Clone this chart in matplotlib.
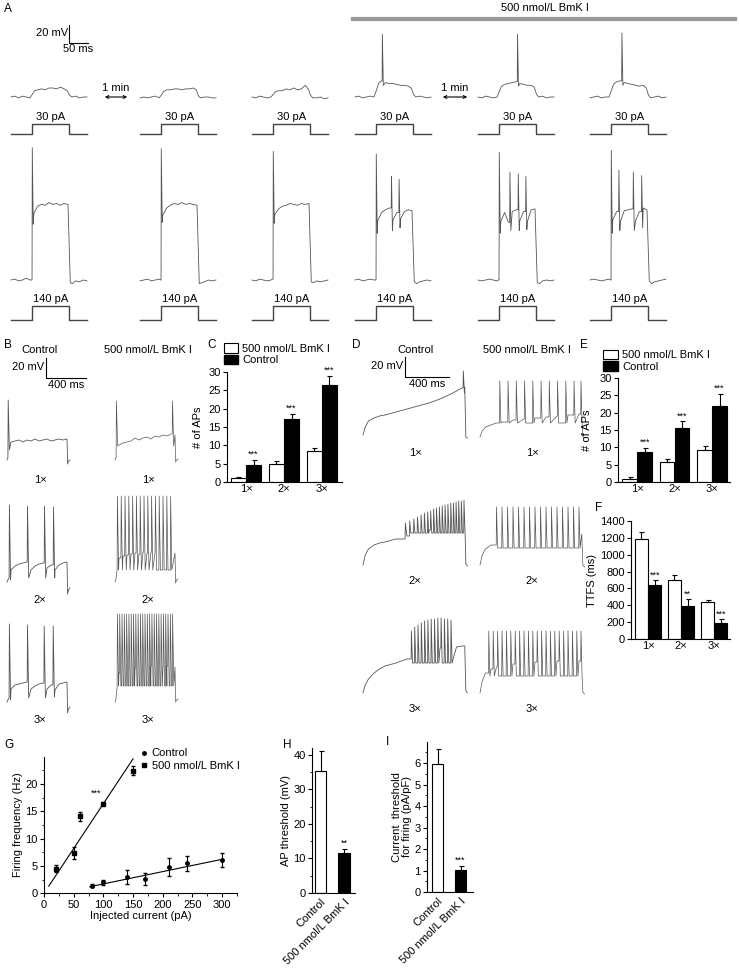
import numpy as np
import matplotlib.pyplot as plt
from matplotlib.patches import Patch, FancyArrowPatch
from matplotlib.lines import Line2D

plt.rcParams['font.family'] = ['Liberation Sans', 'DejaVu Sans']
plt.rcParams['font.size'] = 8
plt.rcParams['axes.linewidth'] = 0.8

W, H = 739, 971
TRACE = '#555555'

# ---------------- A: 30 pA and 140 pA sweeps (ms, mV) ----------------
a_t30 = [0, 10, 20, 30, 40, 50, 56, 62, 70, 80, 90, 100, 110, 120, 130, 140, 148, 154, 160, 170, 180, 190, 200]
a30_ctl = [
    [-65, -64, -66, -64, -65, -66, -62, -58, -57, -56, -57, -55, -55, -56, -54, -56, -58, -63, -65, -64, -66, -65, -65],
    [-66, -65, -66, -65, -64, -66, -63, -59, -57, -57, -56, -56, -57, -56, -56, -55, -57, -64, -66, -65, -65, -66, -66],
    [-65, -66, -64, -65, -66, -65, -62, -59, -58, -58, -56, -57, -55, -57, -56, -52, -56, -63, -66, -66, -65, -67, -66]]
a30_bmk = [
    [-65, -64, -66, -65, -64, -65, -58, -50, -47, -49, -50, -50, -51, -52, -52, -53, -55, -62, -65, -64, -65, -66, -65],
    [-65, -66, -64, -65, -66, -65, -59, -53, -51, -50, -49, -48, -50, -51, -52, -52, -54, -62, -65, -64, -66, -65, -65],
    [-66, -65, -64, -66, -65, -65, -58, -51, -48, -47, -49, -50, -51, -52, -53, -52, -55, -63, -66, -65, -64, -66, -65]]
a30_bmk_spk = [[(72, 5, -52)], [(104, 5, -53)], [(84, 6, -52)]]

a_t140 = [0, 10, 20, 30, 40, 50, 54, 60, 70, 80, 90, 100, 110, 120, 130, 140, 150, 156, 162, 170, 180, 190, 200]
a140_ctl = [
    [-70, -69, -71, -70, -68, -70, -70, 4, 12, 14, 13, 16, 14, 15, 13, 15, 14, -73, -74, -71, -72, -70, -71],
    [-71, -70, -69, -71, -70, -69, -70, 2, 10, 13, 15, 14, 16, 14, 15, 14, 13, -74, -73, -72, -70, -71, -70],
    [-70, -71, -69, -70, -71, -70, -69, 3, 9, 12, 13, 15, 14, 13, 15, 14, 15, -72, -73, -71, -72, -71, -70]]
a140_ctl_spk = [[(56, 77, -8)], [(56, 76, -6)], [(56, 73, -7)]]
a140_bmk = [
    [-70, -69, -71, -70, -69, -70, -70, -4, 5, 8, 10, -3, 5, -2, 6, 8, 7, -72, -74, -72, -71, -70, -71],
    [-70, -71, -70, -69, -70, -71, -70, -5, 5, -6, 6, 8, -4, 6, -5, 8, 9, -73, -74, -71, -70, -71, -70],
    [-70, -69, -70, -71, -70, -69, -70, -3, 6, -5, 7, 8, 9, -4, 6, 10, 8, -71, -74, -72, -71, -70, -69]]
a140_bmk_spk = [
    [(56, 70, -18), (96, 45, -15), (116, 42, -12)],
    [(56, 72, -18), (84, 50, -15), (106, 48, -15), (126, 45, -14)],
    [(56, 74, -18), (76, 52, -15), (114, 50, -15), (136, 46, -12)]]

step_t = [0, 55, 55, 152, 152, 200]
step_on = [0, 0, 1, 1, 0, 0]
step_amp = [30, 140]

# ---------------- B: 1x / 2x / 3x rheobase (ms, mV) ----------------
b_t = [0, 8, 20, 40, 80, 120, 160, 200, 240, 280, 320, 360, 400, 440, 480, 520, 560, 600, 606, 615, 630]
b_ctl = [
    [-72, -70, -58, -54, -53, -52, -54, -52, -53, -51, -53, -52, -51, -53, -52, -51, -52, -51, -76, -73, -72],
    [-74, -72, -70, -62, -58, -56, -55, -54, -62, -58, -56, -55, -60, -57, -62, -57, -55, -54, -86, -82, -80],
    [-74, -72, -70, -61, -57, -56, -55, -54, -61, -58, -56, -55, -61, -57, -62, -56, -55, -54, -85, -81, -79]]
b_ctl_spk = [
    [(12, -12, -62)],
    [(24, 3, -72), (205, 2, -70), (375, 2, -70), (465, 1, -70)],
    [(24, 4, -72), (205, 3, -70), (372, 2, -70), (462, 2, -69)]]
b_bmk = [
    [-72, -70, -60, -57, -55, -54, -53, -50, -52, -50, -49, -51, -48, -49, -47, -48, -46, -47, -74, -72, -71],
    [-74, -72, -62, -50, -48, -47, -46, -45, -46, -44, -45, -44, -45, -43, -44, -45, -44, -45, -75, -72, -71],
    [-74, -72, -60, -45, -42, -41, -40, -40, -39, -40, -39, -38, -39, -38, -39, -38, -38, -39, -74, -72, -71]]
b_bmk_spk_t = [
    [14, 575],
    [24, 62, 100, 138, 176, 214, 252, 290, 328, 366, 404, 442, 480, 518, 556],
    [24, 47, 70, 93, 116, 139, 162, 185, 208, 231, 254, 277, 300, 323, 346, 369, 392,
     415, 438, 461, 484, 507, 530, 553, 576]]
b_bmk_peak = [-13, 12, 14]
b_bmk_trough = [-58, -62, -58]

# ---------------- D: 1x / 2x / 3x ramps (ms, mV) ----------------
d_t = [0, 20, 50, 100, 150, 200, 300, 400, 500, 600, 700, 800, 850, 900, 925, 935, 950]
d_ctl = [
    [-70, -62, -56, -53, -51, -50, -47, -44, -41, -38, -34, -29, -26, -23, -22, -72, -73],
    [-72, -62, -56, -52, -50, -49, -46, -43, -40, -37, -35, -32, -31, -30, -30, -71, -73],
    [-72, -64, -58, -52, -48, -45, -42, -38, -34, -30, -27, -26, -26, -25, -25, -70, -72]]
d_ctl_spk_t = [
    [912],
    [385, 425, 462, 495, 528, 558, 588, 615, 642, 668, 694, 720, 746, 772, 798, 822, 846, 870, 894, 918],
    [440, 470, 500, 530, 560, 590, 620, 650, 680, 710, 740, 770, 800]]
d_ctl_peak = [
    [-6],
    [-30, -28, -26, -24, -22, -20, -19, -18, -16, -15, -14, -13, -12, -11, -10, -10, -9, -8, -8, -7],
    [-10, -6, -4, -2, 0, 1, 2, 2, 3, 3, 2, 2, 1]]
d_ctl_trough = [-28, -40, -42]
d_bmk = [
    [-72, -66, -62, -60, -58, -57, -55, -54, -53, -52, -51, -50, -50, -49, -49, -72, -73],
    [-72, -62, -56, -52, -50, -48, -46, -45, -44, -43, -42, -42, -41, -41, -41, -72, -74],
    [-72, -60, -52, -48, -46, -44, -43, -42, -41, -41, -40, -40, -40, -40, -40, -71, -73]]
d_bmk_spk_t = [
    [180, 255, 330, 405, 480, 555, 630, 705, 780, 855, 918],
    [150, 200, 250, 300, 350, 400, 450, 500, 550, 600, 650, 700, 750, 800, 850, 900],
    [80, 120, 160, 200, 240, 280, 320, 360, 400, 440, 480, 520, 560, 600, 640, 680,
     720, 760, 800, 840, 880, 918]]
d_bmk_peak = [-16, -14, -10]
d_bmk_trough = [-58, -55, -55]

# ---------------- C, E, F: bar charts ----------------
groups = ['1\u00d7', '2\u00d7', '3\u00d7']
c_white = [1.1, 5.0, 8.4]
c_white_err = [0.35, 0.6, 0.9]
c_black = [4.7, 17.2, 26.5]
c_black_err = [1.4, 1.3, 2.4]
c_stars = ['***', '***', '***']

e_white = [0.9, 5.7, 9.2]
e_white_err = [0.4, 0.8, 1.3]
e_black = [8.6, 15.5, 22.0]
e_black_err = [1.3, 2.0, 3.5]
e_stars = ['***', '***', '***']

f_white = [1186, 695, 440]
f_white_err = [84, 60, 25]
f_black = [640, 390, 190]
f_black_err = [55, 80, 45]
f_stars = ['***', '**', '***']

# ---------------- G: firing frequency vs current ----------------
g_ctl_x = [80, 100, 140, 170, 210, 240, 300]
g_ctl_y = [1.4, 2.0, 3.0, 2.7, 4.8, 5.5, 6.1]
g_ctl_err = [0.3, 0.5, 1.35, 1.1, 1.6, 1.4, 1.3]
g_ctl_fit_x = [77, 299]
g_ctl_fit_y = [1.2, 6.2]
g_bmk_x = [20, 50, 60, 100, 150]
g_bmk_y = [4.5, 7.4, 14.1, 16.4, 22.4]
g_bmk_err = [0.6, 1.15, 0.8, 0.3, 0.8]
g_bmk_fit_x = [8, 150]
g_bmk_fit_y = [1.3, 24.6]

# ---------------- H, I ----------------
conds = ['Control', '500 nmol/L BmK I']
h_vals = [35.4, 11.6]
h_err = [5.8, 1.1]
i_vals = [5.95, 1.02]
i_err = [0.7, 0.2]


# ================= helpers =================
fig = plt.figure(figsize=(W / 100, H / 100), dpi=100)


def px_axes(x0, y0, w, h):
    return fig.add_axes([x0 / W, 1 - (y0 + h) / H, w / W, h / H])


def fxy(x, y):
    return (x / W, 1 - y / H)


def build_trace(t, v, spikes, w):
    wins = [(ts - 0.25 * w, ts + w) for ts, _, _ in spikes]
    ev = [(ti, 0, vi) for ti, vi in zip(t, v) if not any(a <= ti <= b for a, b in wins)]
    ev += [(ts, 1, (pk, tr)) for ts, pk, tr in spikes]
    ev.sort(key=lambda e: e[0])
    xs, ys = [], []
    for te, kind, val in ev:
        if kind == 0:
            xs.append(te)
            ys.append(val)
        else:
            pk, tr = val
            xs += [te - 0.25 * w, te, te + w]
            ys += [ys[-1] if ys else tr, pk, tr]
    return xs, ys


def trace_axes(x0, y_base, v_base, t_end, vmin, vmax, pxms, pxmv):
    top = y_base - (vmax - v_base) * pxmv
    ax = px_axes(x0, top, t_end * pxms, (vmax - vmin) * pxmv)
    ax.set_xlim(0, t_end)
    ax.set_ylim(vmin, vmax)
    ax.axis('off')
    return ax


def draw_trace(x0, y_base, v_base, t, v, spikes, w, pxms, pxmv, vmin, vmax, lw=0.6):
    ax = trace_axes(x0, y_base, v_base, t[-1], vmin, vmax, pxms, pxmv)
    xs, ys = build_trace(t, v, spikes, w)
    ax.plot(xs, ys, color=TRACE, lw=lw, clip_on=False)
    return ax


def scale_bar(x0, y0, ms, mv, pxms, pxmv, lab_v, lab_h):
    ax = px_axes(x0, y0 - mv * pxmv, ms * pxms, mv * pxmv)
    ax.set_xlim(0, ms)
    ax.set_ylim(0, mv)
    ax.axis('off')
    ax.plot([0, 0, ms], [mv, 0, 0], color='black', lw=0.8, clip_on=False)
    ax.text(-ms * 0.04, mv * 0.55, lab_v, ha='right', va='center', fontsize=8)
    ax.text(ms * 0.5, -mv * 0.08, lab_h, ha='center', va='top', fontsize=8)


def style_axes(ax):
    ax.spines['top'].set_visible(False)
    ax.spines['right'].set_visible(False)
    ax.tick_params(direction='out', length=3, width=0.8, labelsize=8, pad=1.5)
    ax.tick_params(which='minor', direction='out', length=1.8, width=0.6)


def grouped_bars(ax, white, werr, black, berr, stars, ymax, ystep, star_pad):
    x = np.arange(1, 4)
    ekw = dict(lw=0.8, capthick=0.8)
    ax.bar(x - 0.2, white, 0.39, color='white', edgecolor='black', lw=0.8,
           yerr=[np.zeros(3), werr], capsize=1.8, error_kw=ekw)
    ax.bar(x + 0.2, black, 0.39, color='black', edgecolor='black', lw=0.8,
           yerr=[np.zeros(3), berr], capsize=1.8, error_kw=ekw)
    for xi, b, e, s in zip(x, black, berr, stars):
        ax.text(xi + 0.2, b + e + star_pad, s, ha='center', va='bottom', fontsize=6.5)
    ax.set_xticks(x)
    ax.set_xticklabels(groups)
    ax.set_yticks(np.arange(0, ymax + 1, ystep))
    ax.set_ylim(0, ymax)
    style_axes(ax)
    ax.tick_params(axis='x', length=0)


def legend_cd(ax, x_anchor):
    hs = [Patch(facecolor='white', edgecolor='black', lw=0.8, label='500 nmol/L BmK I'),
          Patch(facecolor='black', edgecolor='black', label='Control')]
    ax.legend(handles=hs, loc='lower left', bbox_to_anchor=(x_anchor, 1.06), frameon=False,
              fontsize=8, handlelength=1.3, handleheight=0.9, labelspacing=0.1,
              borderpad=0, handletextpad=0.4, borderaxespad=0)


def panel_label(x, y, s):
    fig.text(x / W, 1 - y / H, s, ha='left', va='center', fontsize=8.5)


# ================= A =================
A_PXMS, A_PXMV = 0.38, 0.9
cols_x = [11, 140, 252, 355, 478, 590]
row1_base, row2_base = 97, 280
for i in range(6):
    if i < 3:
        v30, s30, v140, s140 = a30_ctl[i], [], a140_ctl[i], a140_ctl_spk[i]
    else:
        v30, s30 = a30_bmk[i - 3], a30_bmk_spk[i - 3]
        v140, s140 = a140_bmk[i - 3], a140_bmk_spk[i - 3]
    draw_trace(cols_x[i], row1_base, -65, a_t30, v30, s30, 2.5, A_PXMS, A_PXMV, -74, 15)
    draw_trace(cols_x[i], row2_base, -70, a_t140, v140, s140, 2.5, A_PXMS, A_PXMV, -81, 88)
    for amp, y0, h, lo, hi in [(step_amp[0], 118, 20, -12, 48), (step_amp[1], 300, 24, -40, 200)]:
        sa = px_axes(cols_x[i], y0, step_t[-1] * A_PXMS, h)
        sa.set_xlim(0, step_t[-1])
        sa.set_ylim(lo, hi)
        sa.axis('off')
        sa.plot(step_t, [amp * s for s in step_on], color='#444444', lw=1.0, clip_on=False)
        sa.text((step_t[1] + step_t[3]) / 2, amp + (hi - lo) * 0.09, f'{amp} pA',
                ha='center', va='bottom', fontsize=8)

scale_bar(69, 43, 50, 20, A_PXMS, A_PXMV, '20 mV', '50 ms')
panel_label(4, 9, 'A')
fig.add_artist(Line2D([353 / W, 735 / W], [1 - 19 / H] * 2, color='#999999', lw=3))
fig.text(545 / W, 1 - 8 / H, '500 nmol/L BmK I', ha='center', va='center', fontsize=8)
for xa, xb in [(102, 130), (440, 470)]:
    fig.add_artist(FancyArrowPatch(fxy(xa, 97), fxy(xb, 97), transform=fig.transFigure,
                                   arrowstyle='<->', mutation_scale=5, lw=0.8, color='black'))
    fig.text((xa + xb) / 2 / W, 1 - 88 / H, '1 min', ha='center', va='center', fontsize=8)

# ================= B =================
B_PXMS, B_PXMV = 0.1, 1.0
panel_label(4, 345, 'B')
fig.text(40 / W, 1 - 350 / H, 'Control', ha='center', va='center', fontsize=8)
fig.text(148 / W, 1 - 350 / H, '500 nmol/L BmK I', ha='center', va='center', fontsize=8)
scale_bar(46, 378, 400, 20, B_PXMS, B_PXMV, '20 mV', '400 ms')
b_rows = [460, 580, 700]
for r in range(3):
    draw_trace(7, b_rows[r], -72, b_t, b_ctl[r], b_ctl_spk[r], 12, B_PXMS, B_PXMV, -90, 25)
    spk = [(t, b_bmk_peak[r], b_bmk_trough[r]) for t in b_bmk_spk_t[r]]
    draw_trace(115, b_rows[r], -72, b_t, b_bmk[r], spk, 12, B_PXMS, B_PXMV, -90, 25, lw=0.5)
    for xc in (40, 148):
        fig.text(xc / W, 1 - (b_rows[r] + 20) / H, groups[r], ha='center', va='center', fontsize=8)

# ================= D =================
D_PXMS, D_PXMV = 0.11, 1.0
panel_label(352, 345, 'D')
fig.text(415 / W, 1 - 350 / H, 'Control', ha='center', va='center', fontsize=8)
fig.text(527 / W, 1 - 350 / H, '500 nmol/L BmK I', ha='center', va='center', fontsize=8)
scale_bar(405, 377, 400, 20, D_PXMS, D_PXMV, '20 mV', '400 ms')
d_rows = [437, 565, 693]
for r in range(3):
    spk = [(t, p, d_ctl_trough[r]) for t, p in zip(d_ctl_spk_t[r], d_ctl_peak[r])]
    draw_trace(363, d_rows[r], -72, d_t, d_ctl[r], spk, 10, D_PXMS, D_PXMV, -85, 10)
    spk = [(t, d_bmk_peak[r], d_bmk_trough[r]) for t in d_bmk_spk_t[r]]
    draw_trace(480, d_rows[r], -72, d_t, d_bmk[r], spk, 10, D_PXMS, D_PXMV, -85, 10, lw=0.5)
    for xc in (415, 532):
        fig.text(xc / W, 1 - (d_rows[r] + 16) / H, groups[r], ha='center', va='center', fontsize=8)

# ================= C =================
axC = px_axes(227, 372, 115, 110)
grouped_bars(axC, c_white, c_white_err, c_black, c_black_err, c_stars, 30, 5, 0.3)
axC.set_xlim(0.5, 3.53)
axC.set_ylabel('# of APs', fontsize=8, labelpad=4)
legend_cd(axC, -0.03)
panel_label(207, 345, 'C')

# ================= E =================
axE = px_axes(618, 378, 112, 104)
grouped_bars(axE, e_white, e_white_err, e_black, e_black_err, e_stars, 30, 5, 0.3)
axE.set_xlim(0.49, 3.48)
axE.set_ylabel('# of APs', fontsize=8, labelpad=5)
legend_cd(axE, -0.13)
panel_label(580, 345, 'E')

# ================= F =================
axF = px_axes(631, 521, 99, 118)
grouped_bars(axF, f_white, f_white_err, f_black, f_black_err, f_stars, 1400, 200, 10)
axF.set_xlim(0.485, 3.48)
axF.set_ylabel('TTFS (ms)', fontsize=8, labelpad=2)
panel_label(595, 508, 'F')

# ================= G =================
axG = px_axes(44, 756.6, 193, 136.7)
axG.errorbar(g_ctl_x, g_ctl_y, yerr=g_ctl_err, fmt='o', ms=2.5, color='black',
             capsize=1.5, elinewidth=0.8, label='Control')
axG.errorbar(g_bmk_x, g_bmk_y, yerr=g_bmk_err, fmt='s', ms=2.5, color='black',
             capsize=1.5, elinewidth=0.8, label='500 nmol/L BmK I')
axG.plot(g_ctl_fit_x, g_ctl_fit_y, color='black', lw=0.8)
axG.plot(g_bmk_fit_x, g_bmk_fit_y, color='black', lw=0.8)
axG.text(88, g_bmk_y[3] + 1.0, '***', ha='center', va='bottom', fontsize=6.5)
axG.set_xlim(0, 325)
axG.set_ylim(0, 25)
axG.set_xticks(np.arange(0, 301, 50))
axG.set_xticks(np.arange(25, 326, 50), minor=True)
axG.set_yticks(np.arange(0, 21, 5))
axG.set_yticks(np.arange(2.5, 25, 5), minor=True)
style_axes(axG)
axG.set_xlabel('Injected current (pA)', fontsize=8, labelpad=1)
axG.set_ylabel('Firing frequency (Hz)', fontsize=8, labelpad=2)
hs = [Line2D([], [], marker='o', ls='', ms=2.5, color='black', label='Control'),
      Line2D([], [], marker='s', ls='', ms=2.5, color='black', label='500 nmol/L BmK I')]
axG.legend(handles=hs, loc='upper left', bbox_to_anchor=(0.5, 1.06), frameon=False,
           fontsize=8, handlelength=0.6, handletextpad=0.4, labelspacing=0.25,
           borderpad=0, borderaxespad=0)
panel_label(4, 745, 'G')


# ================= H, I =================
def two_bars(ax, vals, errs, stars, star_pad):
    x = np.arange(2)
    ax.bar(x, vals, 0.49, color=['white', 'black'], edgecolor='black', lw=0.8,
           yerr=[np.zeros(2), errs], capsize=1.8, error_kw=dict(lw=0.8, capthick=0.8))
    ax.text(1, vals[1] + errs[1] + star_pad, stars, ha='center', va='bottom', fontsize=6.5)
    ax.set_xticks(x)
    ax.set_xticklabels(conds, rotation=45, ha='right', rotation_mode='anchor')
    style_axes(ax)
    ax.tick_params(axis='x', length=0, pad=3)


axH = px_axes(312, 748, 43, 145)
two_bars(axH, h_vals, h_err, '**', 0.4)
axH.set_xlim(-0.362, 1.468)
axH.set_ylim(0, 42)
axH.set_yticks(np.arange(0, 41, 10))
axH.set_yticks(np.arange(5, 42, 5), minor=True)
axH.set_ylabel('AP threshold (mV)', fontsize=8, labelpad=2)
panel_label(283, 745, 'H')

axI = px_axes(427, 741.5, 46, 150.5)
two_bars(axI, i_vals, i_err, '***', 0.05)
axI.set_xlim(-0.457, 1.543)
axI.set_ylim(0, 7)
axI.set_yticks(np.arange(0, 7, 1))
axI.set_yticks(np.arange(0.5, 7, 0.5), minor=True)
axI.set_ylabel('Current  threshold\nfor firing (pA/pF)', fontsize=8, labelpad=2, linespacing=1.0)
panel_label(386, 742, 'I')

fig.savefig('out.png', dpi=100)
